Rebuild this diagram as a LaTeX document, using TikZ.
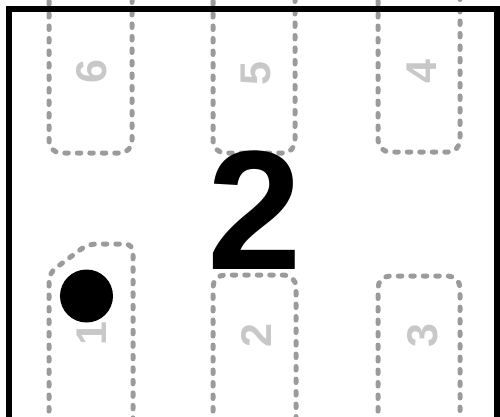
\documentclass[tikz,border=0pt]{standalone}
\usepackage{fontspec}
\setmainfont{Liberation Sans}
\usepackage{tikz}
\usetikzlibrary{positioning}

\definecolor{padline}{RGB}{155,155,155}
\definecolor{padtext}{RGB}{200,200,200}

\tikzset{
  pad/.style={padline, line width=5pt, dash pattern=on 3.5pt off 9pt, line cap=round, rounded corners=12pt},
  padnum/.style={padtext, font=\fontsize{43}{43}\selectfont\bfseries, rotate=90, inner sep=0pt},
}

\begin{document}
\begin{tikzpicture}[x=1pt, y=1pt]
\clip (0,0) rectangle (500,416);

% Pads, top row
\draw[pad] (49,440) -- (49,263) -- (132,263) -- (132,440);
\draw[pad] (213,440) -- (213,263) -- (295,263) -- (295,440);
\draw[pad] (378,440) -- (378,264) -- (460,264) -- (460,440);

% Pads, bottom row (pad 1 with the cut corner)
\draw[pad, rounded corners=8pt] (49,-20) -- (49,143) -- (88,172) -- (133,172) -- (133,-20);
\draw[pad] (213,-20) -- (213,141) -- (296,141) -- (296,-20);
\draw[pad] (378,-20) -- (378,140) -- (460,140) -- (460,-20);

% Pad numbers
\node[padnum] (num6) at (91.5,344) {6};
\node[padnum] (num5) at (256,342) {5};
\node[padnum] (num4) at (422,344) {4};
\node[padnum] (num1) at (92,82) {1};
\node[padnum] (num2) at (256,80) {2};
\node[padnum] (num3) at (423,80) {3};

% Part number and pin-1 dot
\node[font=\fontsize{170}{170}\selectfont\bfseries, inner sep=0pt] (partno) at (255,206) {2};
\fill (86.5,120) circle (26.5);

% Outline
\draw[line width=6pt] (9,-20) -- (9,407) -- (497,407) -- (497,-20);
\end{tikzpicture}
\end{document}
